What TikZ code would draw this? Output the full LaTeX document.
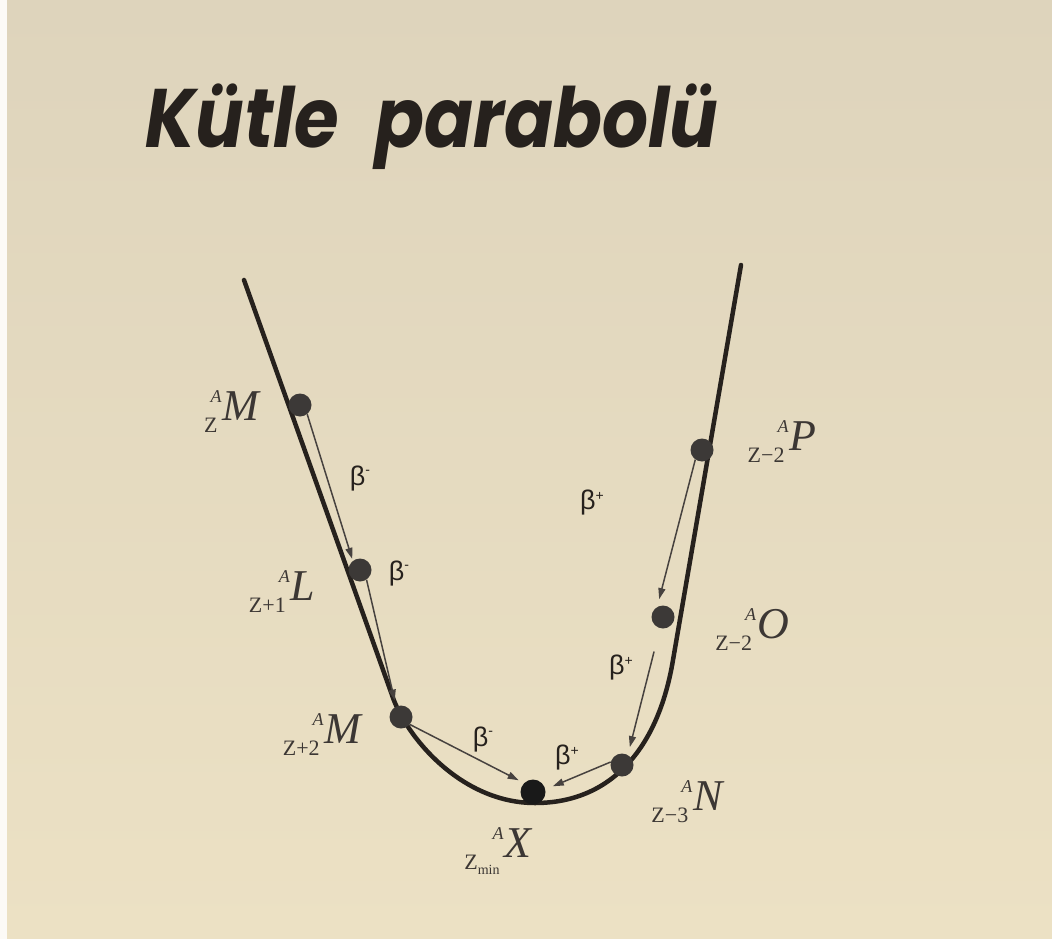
\documentclass[tikz,border=0pt]{standalone}
\usepackage{fontspec}
\setmainfont{Liberation Serif}
\newfontfamily\titlefont{Poppins}
\newfontfamily\betafont{Liberation Sans}
\usetikzlibrary{arrows.meta}

\definecolor{paper}{RGB}{236,225,196}
\definecolor{papertop}{RGB}{222,212,188}
\definecolor{ink}{RGB}{38,33,29}
\definecolor{dotgray}{RGB}{60,57,55}

% nuclide symbol: mass number above, charge below, both on the left
\newcommand*{\nuc}[2]{%
	\llap{\raisebox{18pt}{\fontsize{18}{18}\selectfont\itshape A\kern1pt}}%
	\llap{\raisebox{-12pt}{\fontsize{22}{22}\selectfont #1\kern5pt}}%
	{\itshape #2}}
\newcommand*{\betam}{β\raisebox{11pt}{\fontsize{14}{14}\selectfont -}}
\newcommand*{\betap}{β\raisebox{9pt}{\fontsize{14}{14}\selectfont +}}

\begin{document}
\begin{tikzpicture}
[
	x=1pt,y=-1pt,
	dot/.style={circle,fill=dotgray,inner sep=0pt,minimum size=23pt},
	decay/.style={draw=ink!85,line width=1.5pt,-{Triangle[length=11pt,width=7pt]}},
	nuclide/.style={anchor=base,text=ink!90,inner sep=0pt,font=\fontsize{44}{44}\selectfont},
	betalabel/.style={text=ink,inner sep=0pt,font=\betafont\fontsize{27}{27}\selectfont}
]

	% paper
	\shade[top color=papertop,bottom color=paper] (0,0) rectangle (1052,939);
	\fill[white!85!paper] (0,0) rectangle (7,939);
	\useasboundingbox (0,0) rectangle (1052,939);

	% title
	\node[anchor=base west,inner sep=0pt,text=ink,font=\titlefont\bfseries\itshape\fontsize{83}{83}\selectfont] (title) at (145,148) {\scalebox{0.87}[1]{Kütle\hspace{22pt} parabolü}};

	% mass parabola
	\draw[ink,line width=4.5pt,line cap=round] (244,280) -- (392,695)
		.. controls (405,735) and (460,803) .. (535,803)
		.. controls (610,803) and (658,750) .. (673,660) -- (741,265);

	% nuclei on the parabola
	\node[dot] (mz) at (300,405) {};
	\node[dot] (l) at (360,570) {};
	\node[dot] (mzz) at (401,717) {};
	\node[dot,fill=black!90,minimum size=25pt] (x) at (533,792) {};
	\node[dot] (n) at (622,765) {};
	\node[dot] (o) at (663,617) {};
	\node[dot] (p) at (702,450) {};

	% decays
	\draw[decay,shorten >=2pt] (mz.-52) -- (l.128);
	\draw[decay,shorten >=6pt] (l.-56) -- (mzz.115);
	\draw[decay,shorten >=6pt] (mzz.-40) -- (x.135);
	\draw[decay,shorten >=8pt] (n.165) -- (x.12);
	\draw[decay,shorten >=8pt] (p.-125) -- (o.120);
	\draw[decay,shorten <=24pt,shorten >=8pt] (o.-105) -- (n.60);

	% decay labels
	\node[betalabel] (b1) at (360,479) {\betam};
	\node[betalabel] (b2) at (399,574) {\betam};
	\node[betalabel] (b3) at (483,740) {\betam};
	\node[betalabel] (b4) at (567,758) {\betap};
	\node[betalabel] (b5) at (592,503) {\betap};
	\node[betalabel] (b6) at (621,668) {\betap};

	% nuclide names
	\node[nuclide] (nmz) at (241,420) {\nuc{Z}{M}};
	\node[nuclide] (nl) at (303,600) {\nuc{Z+1}{L}};
	\node[nuclide] (nmzz) at (343,743) {\nuc{Z+2}{M}};
	\node[nuclide] (nx) at (518,857) {\nuc{Z\raisebox{-5pt}{\fontsize{14}{14}\selectfont min}}{X}};
	\node[nuclide] (nn) at (708,810) {\nuc{Z−3}{N}};
	\node[nuclide] (no) at (773,638) {\nuc{Z−2}{O}};
	\node[nuclide] (np) at (803,450) {\nuc{Z−2}{P}};

\end{tikzpicture}
\end{document}
